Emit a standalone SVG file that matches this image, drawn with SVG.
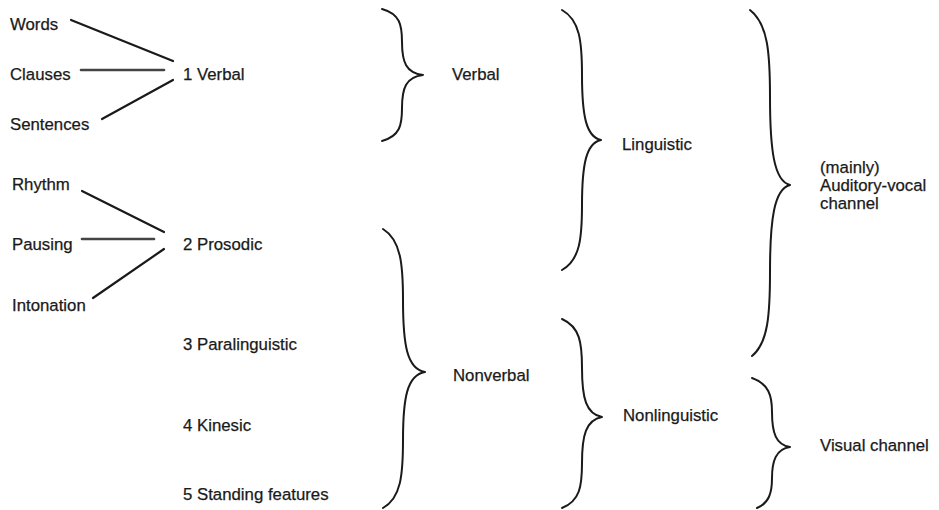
<svg xmlns="http://www.w3.org/2000/svg" width="939" height="510" viewBox="0 0 939 510">
<style>
text{font-family:"Liberation Sans",Arial,Helvetica,sans-serif;font-size:16.8px;fill:#1a1a1a;stroke:#1a1a1a;stroke-width:0.25}
.ln{stroke:#1a1a1a;stroke-width:2.2;fill:none;stroke-linecap:round}
.br{stroke:#1a1a1a;stroke-width:2;fill:none;stroke-linecap:round;stroke-linejoin:round}
</style>
<rect width="939" height="510" fill="#ffffff"/>
<g id="connectors">
<line class="ln" x1="71" y1="20" x2="173" y2="61"/>
<line class="ln" x1="81" y1="70" x2="164" y2="70" style="stroke:#444;stroke-width:2.6"/>
<line class="ln" x1="102" y1="119" x2="173" y2="80"/>
<line class="ln" x1="82" y1="191" x2="164" y2="232"/>
<line class="ln" x1="82" y1="239" x2="154" y2="239" style="stroke:#444;stroke-width:2.6"/>
<line class="ln" x1="93" y1="298" x2="164" y2="249"/>
<path class="br" d="M382,9 C400,14 402,25 402,42 C402,62 406,73 423,75 C406,77 402,88 402,108 C402,125 400,136 382,141"/>
<path class="br" d="M562,10 C580,20 582,42 582,75 C582,115 586,137 601,140 C586,143 582,165 582,205 C582,238 580,260 562,270"/>
<path class="br" d="M383,229 C401,240 403,265 403,300 C403,345 407,369 425,372 C407,375 403,398 403,440 C403,475 401,498 383,508"/>
<path class="br" d="M562,319 C580,327 582,343 582,368 C582,398 586,414 602,417 C586,420 582,435 582,463 C582,486 580,501 562,508"/>
<path class="br" d="M750,10 C768,24 770,53 770,97 C770,150 774,181 790,185 C774,189 770,220 770,272 C770,315 768,343 752,356"/>
<path class="br" d="M752,378 C769,384 772,396 772,412 C772,433 776,445 790,447 C776,449 772,461 772,478 C772,493 769,503 757,508"/>
</g>
<g id="words"><text x="10" y="30">Words</text></g>
<g id="clauses"><text x="10" y="80">Clauses</text></g>
<g id="sentences"><text x="10" y="130">Sentences</text></g>
<g id="verbal1"><text x="183" y="80">1 Verbal</text></g>
<g id="rhythm"><text x="12" y="190">Rhythm</text></g>
<g id="pausing"><text x="12" y="250">Pausing</text></g>
<g id="intonation"><text x="12" y="311">Intonation</text></g>
<g id="prosodic"><text x="183" y="250">2 Prosodic</text></g>
<g id="paralinguistic"><text x="183" y="350">3 Paralinguistic</text></g>
<g id="kinesic"><text x="183" y="431">4 Kinesic</text></g>
<g id="standing"><text x="183" y="500">5 Standing features</text></g>
<g id="verbal"><text x="452" y="80">Verbal</text></g>
<g id="nonverbal"><text x="453" y="381">Nonverbal</text></g>
<g id="linguistic"><text x="622" y="150">Linguistic</text></g>
<g id="nonlinguistic"><text x="623" y="421">Nonlinguistic</text></g>
<g id="auditory"><text x="820" y="173">(mainly)</text><text x="820" y="191">Auditory-vocal</text><text x="820" y="209">channel</text></g>
<g id="visual"><text x="820" y="451">Visual channel</text></g>
</svg>
